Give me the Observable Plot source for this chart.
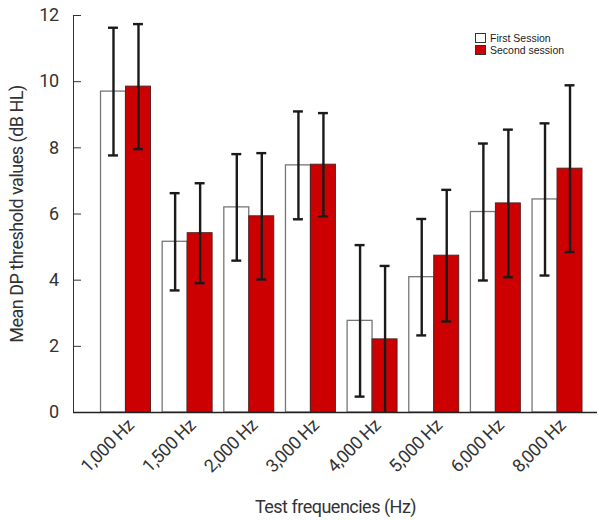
<!DOCTYPE html>
<html>
<head>
<meta charset="utf-8">
<script src="https://cdn.jsdelivr.net/npm/d3@7"></script>
<script src="https://cdn.jsdelivr.net/npm/@observablehq/plot@0.6"></script>
<style>
  body { margin: 0; background: #fff; }
  #wrap { position: relative; width: 599px; height: 520px; }
  #legend { position: absolute; left: 475px; top: 32px; font-family: "Liberation Sans", Arial, sans-serif; font-size: 10.5px; color: #222; line-height: 12px; }
  #legend .row { display: flex; align-items: center; height: 12px; }
  #legend .sw { width: 9px; height: 8px; border: 1px solid #333; margin-right: 4px; box-sizing: content-box; }
</style>
</head>
<body>
<div id="wrap">
  <div id="chart"></div>
  <div id="legend"></div>
</div>
<script>
const freqs = ["1,000 Hz", "1,500 Hz", "2,000 Hz", "3,000 Hz", "4,000 Hz", "5,000 Hz", "6,000 Hz", "8,000 Hz"];
const sessions = ["First Session", "Second session"];
const firstMean = [9.70, 5.16, 6.20, 7.47, 2.77, 4.09, 6.06, 6.44];
const firstSD   = [1.93, 1.47, 1.61, 1.63, 2.29, 1.76, 2.07, 2.30];
const secondMean = [9.85, 5.42, 5.93, 7.49, 2.21, 4.74, 6.32, 7.37];
const secondSD   = [1.89, 1.51, 1.91, 1.56, 2.22, 1.99, 2.23, 2.52];
const yTicks = [0, 2, 4, 6, 8, 10, 12];
const colors = ["#ffffff", "#cc0000"];

const first = freqs.map((f, i) => ({freq: f, mean: firstMean[i], lo: firstMean[i] - firstSD[i], hi: firstMean[i] + firstSD[i]}));
const second = freqs.map((f, i) => ({freq: f, mean: secondMean[i], lo: secondMean[i] - secondSD[i], hi: secondMean[i] + secondSD[i]}));

const font = 'Roboto, "DejaVu Sans Condensed", sans-serif';

const chart = Plot.plot({
  width: 599,
  height: 520,
  marginTop: 15,
  marginBottom: 108,
  marginLeft: 73,
  marginRight: 2,
  style: {fontFamily: font, fontSize: "18px", color: "#333", letterSpacing: "-0.5px", background: "#fff"},
  x: {domain: freqs, paddingInner: 0.19, paddingOuter: 0.345, align: 0.647, round: false},
  y: {domain: [0, 12], ticks: yTicks, tickSize: -8, tickPadding: 23, line: true,
      label: "Mean DP threshold values (dB HL)", labelAnchor: "center", labelOffset: 63, labelArrow: "none"},
  marks: [
    Plot.barY(first, {x: "freq", y: "mean", fill: colors[0], stroke: "#777", strokeWidth: 1.3, insetRight: 25}),
    Plot.barY(second, {x: "freq", y: "mean", fill: colors[1], stroke: "#5a2020", strokeWidth: 1, insetLeft: 25}),
    Plot.ruleX(first, {x: "freq", y1: "lo", y2: "hi", dx: -12.5, stroke: "#1a1a1a", strokeWidth: 2.4, clip: true}),
    Plot.tickY(first, {x: "freq", y: "hi", dx: -12.5, insetLeft: 20, insetRight: 20, stroke: "#1a1a1a", strokeWidth: 2.4}),
    Plot.tickY(first, {x: "freq", y: "lo", dx: -12.5, insetLeft: 20, insetRight: 20, stroke: "#1a1a1a", strokeWidth: 2.4, clip: true}),
    Plot.ruleX(second, {x: "freq", y1: "lo", y2: "hi", dx: 12.5, stroke: "#1a1a1a", strokeWidth: 2.4, clip: true}),
    Plot.tickY(second, {x: "freq", y: "hi", dx: 12.5, insetLeft: 20, insetRight: 20, stroke: "#1a1a1a", strokeWidth: 2.4}),
    Plot.tickY(second.filter(d => d.lo >= 0), {x: "freq", y: "lo", dx: 12.5, insetLeft: 20, insetRight: 20, stroke: "#1a1a1a", strokeWidth: 2.4}),
    Plot.ruleY([0], {stroke: "#222", strokeWidth: 1.5}),
    Plot.axisX({tickSize: 0, tickRotate: -45, tickPadding: 10, dx: 5, label: null}),
    Plot.axisX({ticks: [], tickSize: 0, label: "Test frequencies (Hz)", labelAnchor: "center", labelOffset: 100, labelArrow: "none"})
  ]
});
document.getElementById("chart").appendChild(chart);

const legend = document.getElementById("legend");
sessions.forEach((s, i) => {
  const row = document.createElement("div");
  row.className = "row";
  const sw = document.createElement("span");
  sw.className = "sw";
  sw.style.background = colors[i];
  const t = document.createElement("span");
  t.textContent = s;
  row.appendChild(sw);
  row.appendChild(t);
  legend.appendChild(row);
});
</script>
</body>
</html>
